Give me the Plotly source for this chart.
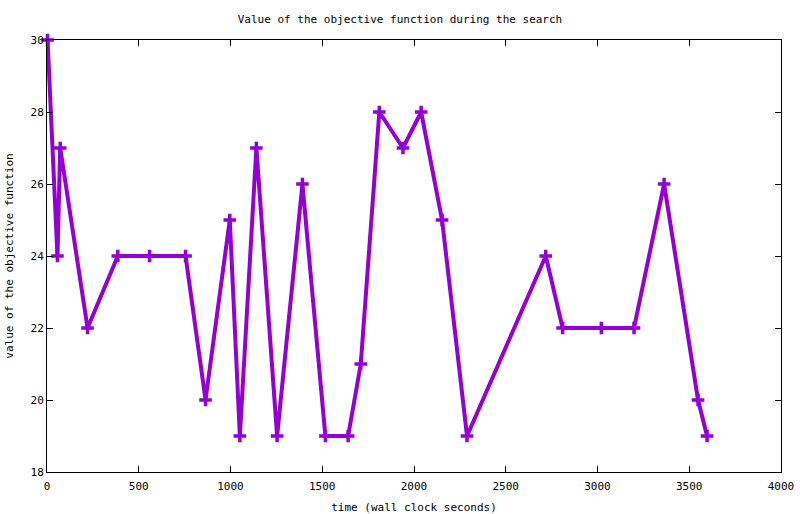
"""Gnuplot-style line chart: objective function value over wall clock time."""

import plotly.graph_objects as go

# Search trace: wall clock seconds and objective value at each improvement step
time_s = [3, 57, 72, 221, 386, 559, 755, 864, 996, 1051, 1141, 1254, 1392,
          1517, 1641, 1710, 1811, 1940, 2039, 2153, 2289, 2718, 2810, 3021,
          3199, 3363, 3548, 3597]
objective = [30, 24, 27, 22, 24, 24, 24, 20, 25, 19, 27, 19, 26,
             19, 19, 21, 28, 27, 28, 25, 19, 24, 22, 22,
             22, 26, 20, 19]

x_ticks = [0, 500, 1000, 1500, 2000, 2500, 3000, 3500, 4000]
y_ticks = [18, 20, 22, 24, 26, 28, 30]

MONO = "DejaVu Sans Mono, Liberation Mono, monospace"
VIOLET = "#9400d3"

fig = go.Figure()

fig.add_trace(go.Scatter(
    x=time_s, y=objective, mode="lines+markers",
    line=dict(color=VIOLET, width=4),
    marker=dict(symbol="cross-thin", size=9,
                line=dict(color=VIOLET, width=3.5)),
    cliponaxis=False, showlegend=False,
))

axis_common = dict(
    showgrid=False, zeroline=False, automargin=False,
    showline=True, linecolor="black", linewidth=1, mirror="ticks",
    ticks="inside", ticklen=6, tickcolor="black", tickwidth=1,
    tickfont=dict(family=MONO, size=11, color="black"),
)

fig.update_layout(
    width=800, height=514,
    paper_bgcolor="white", plot_bgcolor="white",
    margin=dict(l=47, r=19, t=40, b=42, autoexpand=False),
    title=dict(
        text="Value of the objective function during the search",
        x=0.5, xanchor="center", y=0.963, yanchor="middle",
        font=dict(family=MONO, size=11, color="black"),
    ),
    xaxis=dict(
        range=[0, 4000], tickvals=x_ticks,
        ticklabelstandoff=4,
        title=dict(text="time (wall clock seconds)", standoff=12,
                   font=dict(family=MONO, size=11, color="black")),
        **axis_common,
    ),
    yaxis=dict(
        range=[18, 30], tickvals=y_ticks,
        title=dict(text="value of the objective function", standoff=14,
                   font=dict(family=MONO, size=11, color="black")),
        **axis_common,
    ),
)

# the page body has an 8px default margin; drop it so the figure fills the window
fig.write_html(
    "out.html",
    config={"displayModeBar": False},
    post_script="document.body.style.margin = '0';",
)
